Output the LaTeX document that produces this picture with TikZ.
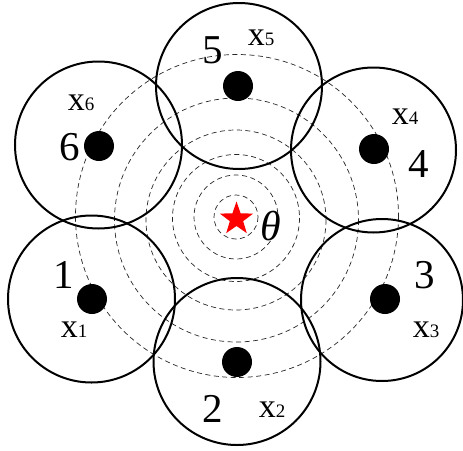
\documentclass[tikz,border=0pt]{standalone}
\usepackage{fontspec}
\setmainfont{Liberation Serif}
\usetikzlibrary{shapes.geometric}
\tikzset{
  bigc/.style={circle, draw=black, line width=2pt, minimum size=#1, inner sep=0pt},
  dashc/.style={draw=black!85, line width=0.7pt, dash pattern=on 5pt off 3.5pt},
  sensor/.style={circle, fill=black, minimum size=30pt, inner sep=0pt},
  num/.style={anchor=base, inner sep=0pt, font=\fontsize{41}{41}\selectfont},
  xlab/.style={anchor=base, inner sep=0pt, font=\fontsize{34}{34}\selectfont},
}
\newcommand{\xl}[1]{x{\fontsize{19}{19}\selectfont #1}}
\begin{document}
\begin{tikzpicture}[x=1pt,y=-1pt]
\useasboundingbox (0,0) rectangle (463,450);
% dashed concentric circles
\draw[dashc] (236,217) circle[radius=22];
\draw[dashc] (236,217) circle[radius=42];
\draw[dashc] (236,218) circle[radius=63.5];
\draw[dashc] (236,220) circle[radius=90];
\draw[dashc] (236.5,220) circle[radius=122];
\draw[dashc] (237,216) circle[radius=161.5];
% big circles
\node[bigc=166pt] (c5) at (239,86) {};
\node[bigc=167pt] (c6) at (98.5,145) {};
\node[bigc=165pt] (c4) at (373.5,150) {};
\node[bigc=167pt] (c1) at (91.5,299) {};
\node[bigc=162pt] (c3) at (382,300) {};
\node[bigc=167pt] (c2) at (237,361.5) {};
% sensors
\node[sensor] (s5) at (238,86) {};
\node[sensor] (s6) at (99,146) {};
\node[sensor] (s4) at (374,149) {};
\node[sensor] (s1) at (92,299) {};
\node[sensor] (s3) at (385,299) {};
\node[sensor] (s2) at (237,362) {};
% source
\node[star, star points=5, star point ratio=2.5, fill=red, minimum size=35pt, inner sep=0pt] (src) at (236.5,219) {};
\node[anchor=base, inner sep=0pt, font=\fontsize{42}{42}\selectfont\itshape] (theta) at (271,240) {θ};
% labels
\node[num] (n5) at (212.5,63) {5};
\node[xlab] (x5) at (261,45) {\xl{5}};
\node[num] (n6) at (70,160) {6};
\node[xlab] (x6) at (81,110) {\xl{6}};
\node[num] (n4) at (419,177) {4};
\node[xlab] (x4) at (405,124) {\xl{4}};
\node[num] (n1) at (64,288) {1};
\node[xlab] (x1) at (74,337) {\xl{1}};
\node[num] (n3) at (425,288) {3};
\node[xlab] (x3) at (426,337) {\xl{3}};
\node[num] (n2) at (213,422) {2};
\node[xlab] (x2) at (272,417) {\xl{2}};
\end{tikzpicture}
\end{document}
